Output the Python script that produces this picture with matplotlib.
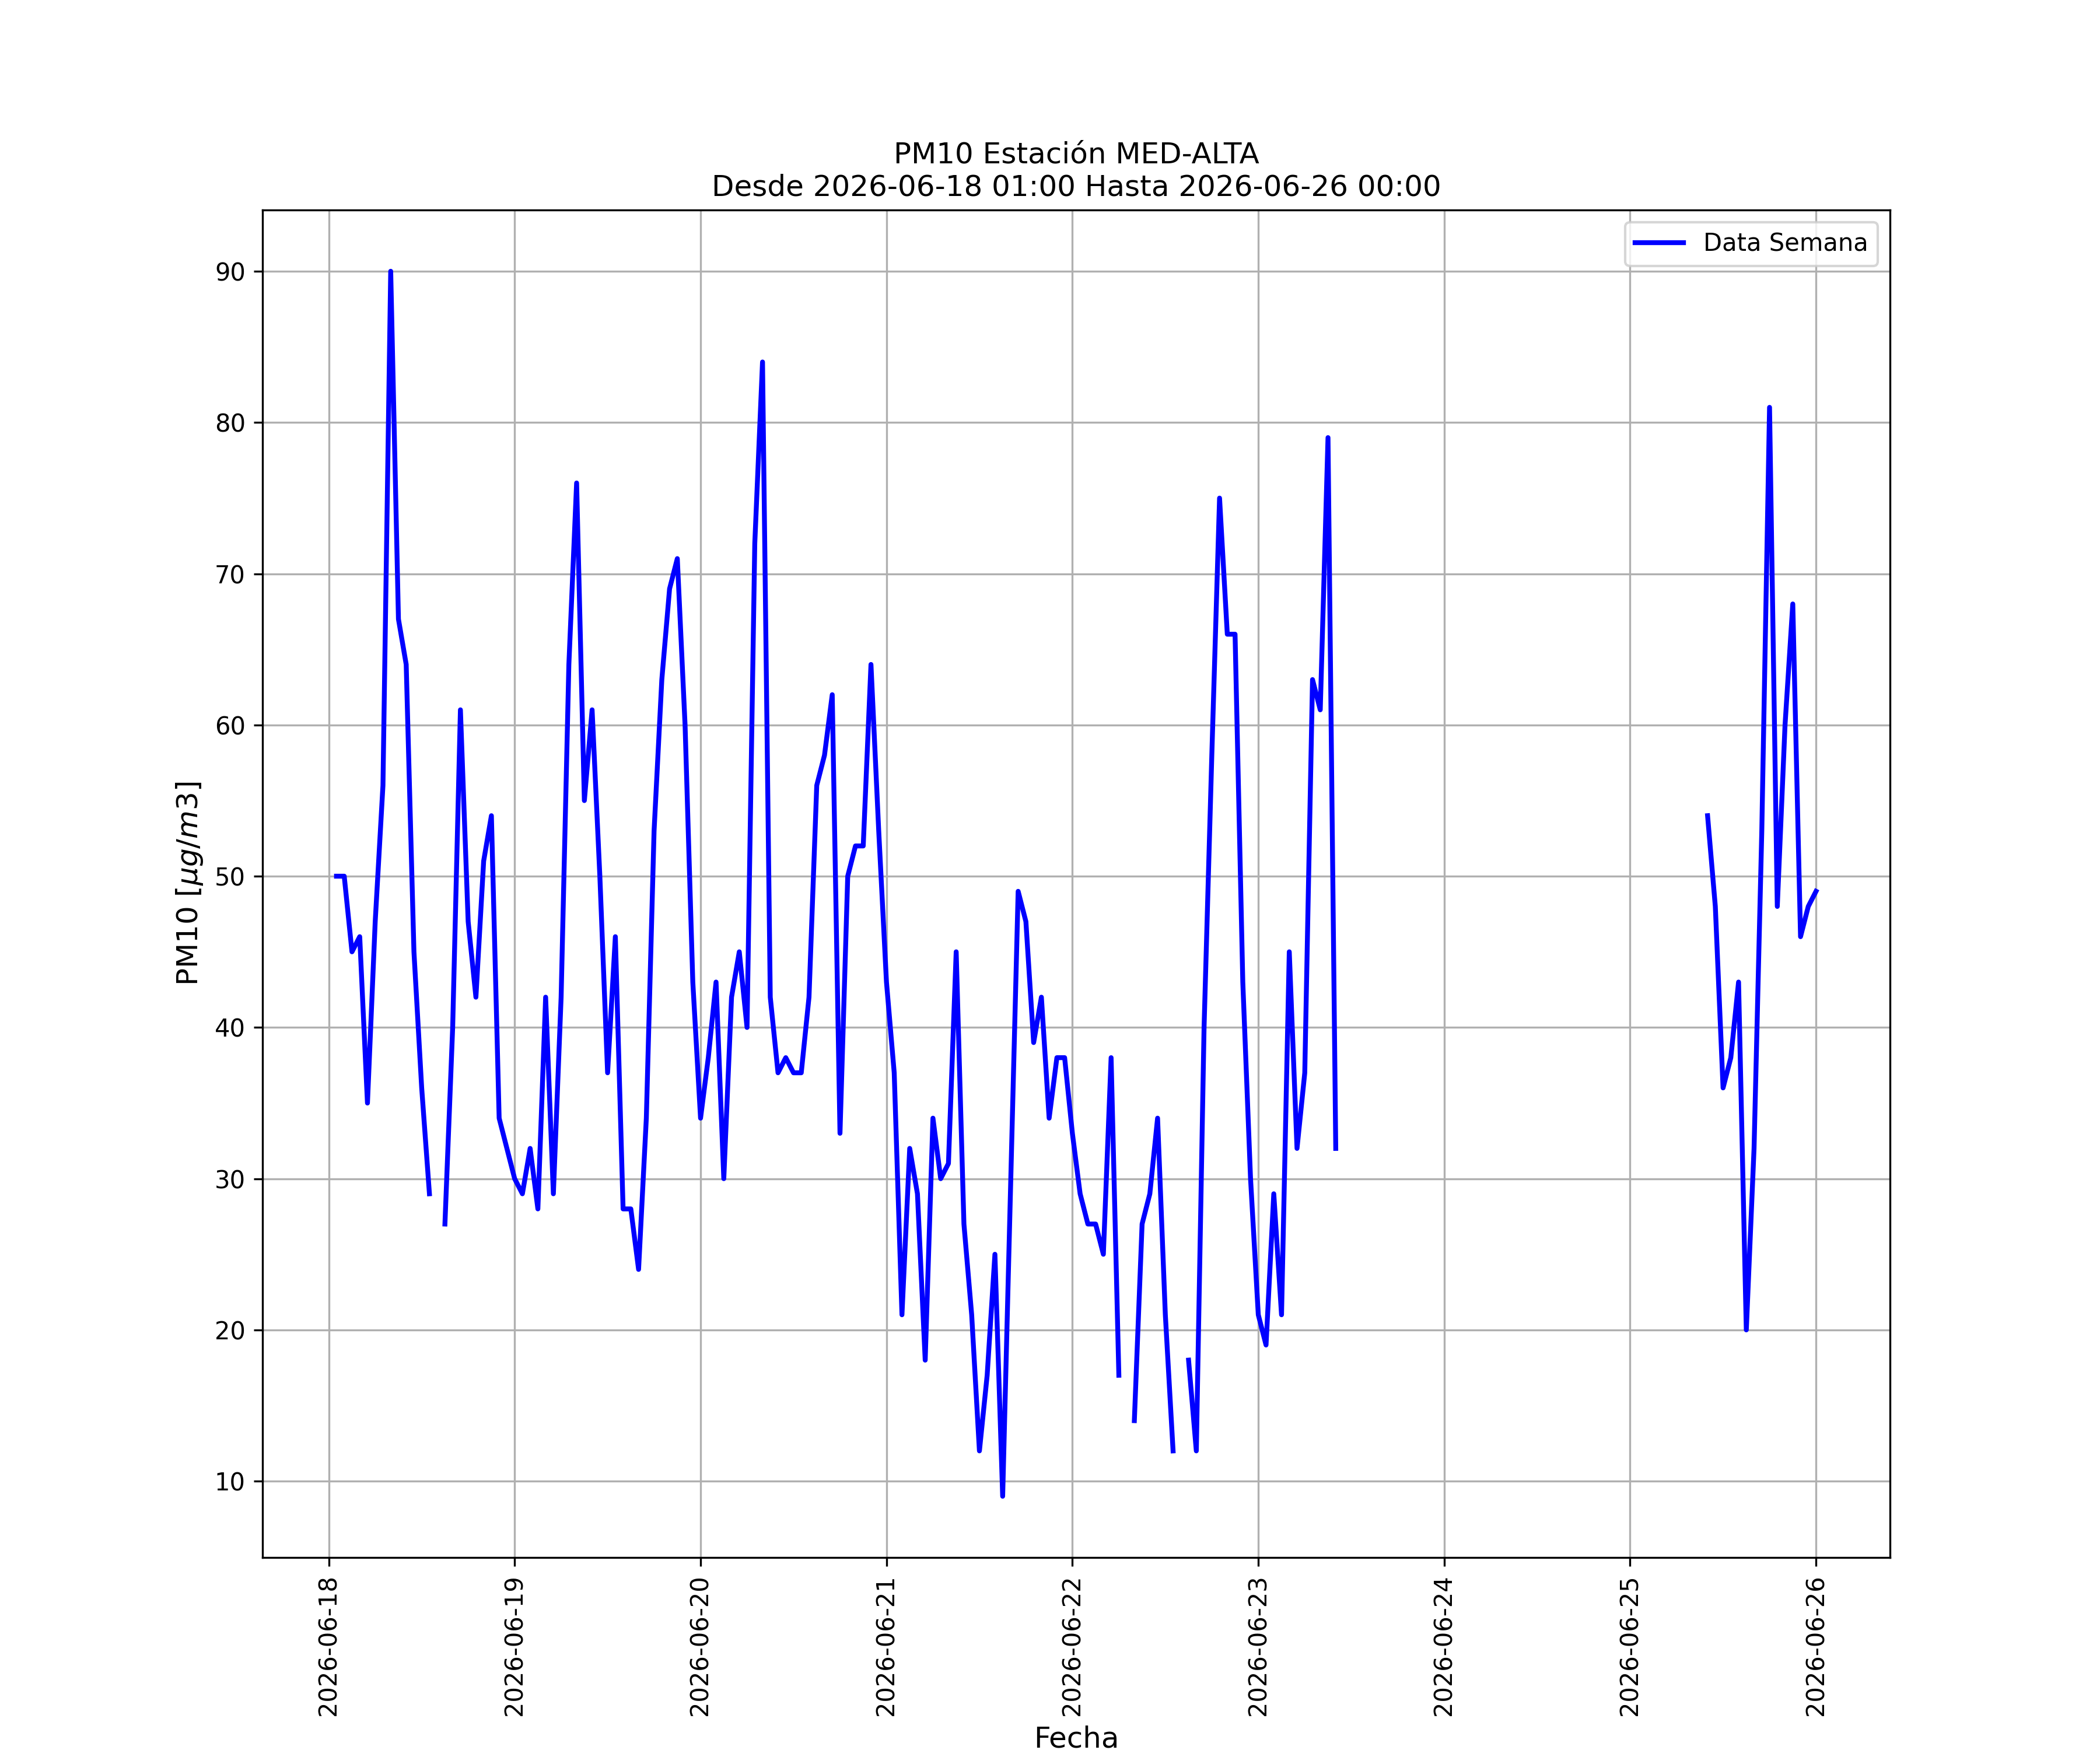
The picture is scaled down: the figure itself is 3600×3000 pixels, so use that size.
import matplotlib
matplotlib.use('Agg')
import matplotlib.pyplot as plt
import matplotlib.dates as mdates
import numpy as np
import pandas as pd

nan = np.nan

# hourly PM10 values, NaN = missing
dia18 = [50, 50, 45, 46, 35, 47, 56, 90, 67, 64, 45, 36, 29, nan, 27, 40, 61, 47, 42, 51, 54, 34, 32]  # 01:00 .. 23:00
dia19 = [30, 29, 32, 28, 42, 29, 42, 64, 76, 55, 61, 50, 37, 46, 28, 28, 24, 34, 53, 63, 69, 71, 60, 43]
dia20 = [34, 38, 43, 30, 42, 45, 40, 72, 84, 42, 37, 38, 37, 37, 42, 56, 58, 62, 33, 50, 52, 52, 64, 53]
dia21 = [43, 37, 21, 32, 29, 18, 34, 30, 31, 45, 27, 21, 12, 17, 25, 9, 29, 49, 47, 39, 42, 34, 38, 38]
dia22 = [33, 29, 27, 27, 25, 38, 17, nan, 14, 27, 29, 34, 21, 12, nan, 18, 12, 40, 58, 75, 66, 66, 43, 30]
dia23 = [21, 19, 29, 21, 45, 32, 37, 63, 61, 79, 32] + [nan] * 13
dia24 = [nan] * 24
dia25 = [nan] * 10 + [54, 48, 36, 38, 43, 20, 32, 53, 81, 48, 60, 68, 46, 48]
dia26 = [49]  # 00:00

valores = dia18 + dia19 + dia20 + dia21 + dia22 + dia23 + dia24 + dia25 + dia26
fechas = pd.date_range('2026-06-18 01:00', '2026-06-26 00:00', freq='h')

estacion = 'MED-ALTA'
inicio = '2026-06-18 01:00'
fin = '2026-06-26 00:00'

fig, ax = plt.subplots(figsize=(12, 10), dpi=300)
ax.plot(fechas, valores, color='blue', linewidth=2, label='Data Semana')
ax.set_title('PM10 Estación ' + estacion + '\nDesde ' + inicio + ' Hasta ' + fin, fontsize=12)
ax.set_xlabel('Fecha', fontsize=12)
ax.set_ylabel(r'PM10 [$\mu g/m3$]', fontsize=12)
ax.xaxis.set_major_locator(mdates.DayLocator())
ax.xaxis.set_major_formatter(mdates.DateFormatter('%Y-%m-%d'))
plt.setp(ax.get_xticklabels(), rotation=90)
ax.grid(True)
ax.legend(loc='upper right')
fig.savefig('out.png', dpi=300)
